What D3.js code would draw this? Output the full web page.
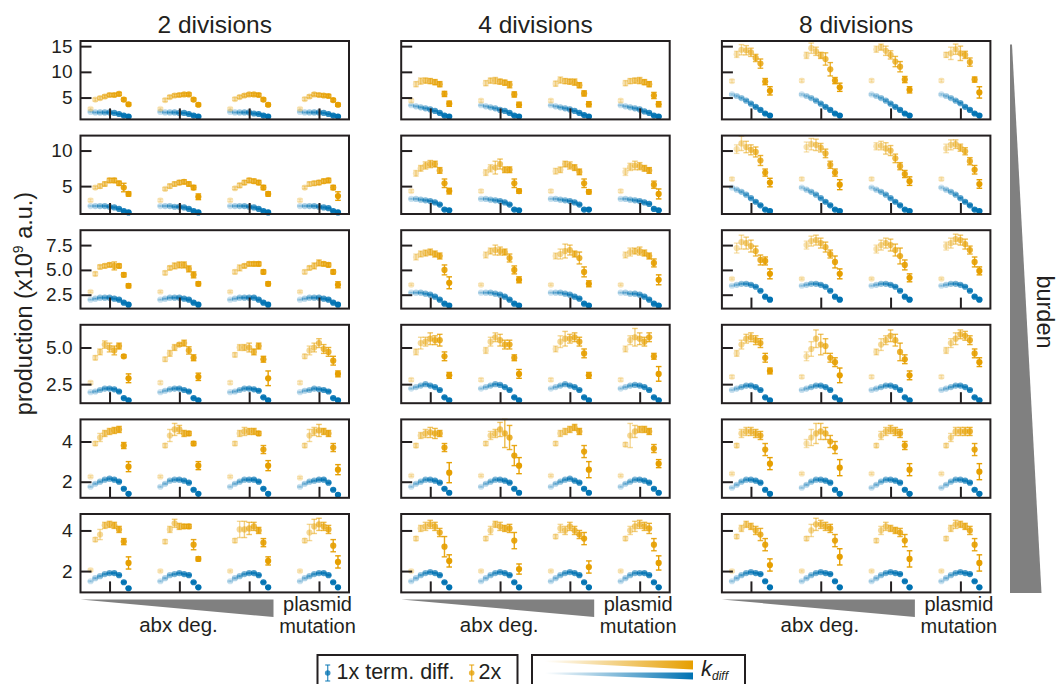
<!DOCTYPE html>
<html><head><meta charset="utf-8">
<script src="https://cdn.jsdelivr.net/npm/d3@7"></script>
<style>html,body{margin:0;padding:0;background:#fff;} svg{display:block;font-family:"Liberation Sans",Arial,Helvetica,sans-serif;}</style>
</head><body><svg id="c" width="1057" height="684"></svg>
<script>
// ---------------- DATA ----------------
const colTitles = ["2 divisions", "4 divisions", "8 divisions"];
const groups = [0, 1, 2, 3];
const rowDomains = [[0.75, 16], [1.08, 12.1], [1.1, 9.0], [1.2, 6.55], [1.2, 5.1], [0.95, 4.81]];
const rowTicks = [[5, 10, 15], [5, 10], [2.5, 5.0, 7.5], [2.5, 5.0], [2, 4], [2, 4]];
const rowTickLabels = [["5", "10", "15"], ["5", "10"], ["2.5", "5.0", "7.5"], ["2.5", "5.0"], ["2", "4"], ["2", "4"]];
const legendLabels = ["1x term. diff.", "2x"];

// orange = 2x term. diff., blue = 1x ; [row][group][k_diff index]
const orange2 = [
 [[2.8,4.6,4.9,5.2,5.5,5.5,5.7,4.6,3.7],[2.8,4.5,5.1,5.4,5.5,5.6,5.6,4.6,3.6],[2.8,4.7,5.1,5.4,5.6,5.6,5.5,4.6,3.6],[2.8,4.7,5.2,5.6,5.5,5.4,5.3,4.5,3.6]],
 [[3.0,4.8,5.0,5.3,5.8,5.8,5.4,4.8,3.9],[3.0,4.6,5.0,5.3,5.5,5.6,5.3,4.8,3.5],[3.0,4.7,5.1,5.5,5.8,5.7,5.5,4.8,3.9],[3.0,4.8,5.3,5.4,5.5,5.7,5.8,4.8,3.6]],
 [[2.8,4.6,5.3,5.4,5.5,5.4,5.4,4.5,3.4],[2.8,4.7,5.2,5.4,5.5,5.5,5.1,4.5,3.6],[2.8,4.8,5.2,5.4,5.6,5.6,5.6,4.8,3.6],[2.8,4.8,5.2,5.4,5.7,5.6,5.5,4.8,3.5]],
 [[2.6,4.3,4.7,5.2,5.0,4.8,5.1,4.4,2.9],[2.6,4.2,4.6,5.0,5.2,5.3,4.8,4.3,3.0],[2.6,4.5,5.0,5.0,5.0,4.7,5.1,4.2,2.9],[2.6,4.4,4.8,5.0,5.3,4.9,4.7,4.1,3.2]],
 [[2.25,3.9,4.2,4.4,4.5,4.55,4.6,3.8,2.75],[2.25,3.8,4.3,4.6,4.6,4.4,4.4,3.9,2.8],[2.25,3.9,4.4,4.5,4.5,4.5,4.4,3.6,2.8],[2.2,3.8,4.3,4.5,4.55,4.5,4.4,3.7,2.6]],
 [[2.05,3.55,3.8,4.25,4.3,4.25,4.05,3.45,2.4],[2.0,3.45,4.05,4.35,4.2,4.2,4.2,3.3,2.6],[2.0,3.5,4.05,4.05,4.1,4.2,4.0,3.4,2.5],[2.0,3.5,3.9,4.2,4.3,4.2,4.05,3.25,2.45]]
];
const orange4 = [
 [[4.4,7.6,8.2,8.3,8.2,8.0,7.6,5.7,3.8],[4.4,7.8,8.3,8.3,8.1,7.9,7.5,5.6,3.6],[4.4,7.7,8.4,8.2,8.1,8.0,7.4,5.8,3.7],[4.4,7.8,8.2,8.3,8.3,8.0,7.6,5.4,3.7]],
 [[4.3,6.8,7.5,7.9,8.1,8.1,7.2,5.4,4.3],[4.3,6.9,7.5,7.6,8.1,7.3,7.3,5.4,4.3],[4.3,7.1,7.3,8.1,7.9,7.6,7.0,5.4,4.2],[4.3,7.0,7.7,7.9,7.8,7.5,7.2,5.2,3.9]],
 [[3.5,6.3,6.6,6.7,6.8,6.6,6.4,5.0,3.7],[3.5,6.5,6.9,7.0,6.9,6.8,6.2,5.0,4.0],[3.5,6.4,6.6,6.9,7.0,6.6,6.2,4.8,3.6],[3.5,6.5,6.8,6.9,6.9,6.7,6.4,5.7,4.0]],
 [[2.8,4.7,5.3,5.4,5.6,5.5,5.5,4.4,3.1],[2.8,4.8,5.4,5.7,5.5,5.2,5.2,4.3,3.2],[2.8,4.9,5.4,5.6,5.6,5.7,5.4,4.6,3.1],[2.8,4.9,5.5,5.7,5.6,5.4,5.7,4.4,3.2]],
 [[2.3,3.8,4.3,4.4,4.45,4.4,4.4,3.7,2.45],[2.3,3.9,4.3,4.4,4.6,4.4,4.2,3.3,2.8],[2.3,3.9,4.4,4.5,4.6,4.7,4.5,3.5,2.6],[2.3,3.85,4.3,4.5,4.6,4.6,4.5,3.65,2.9]],
 [[2.0,3.6,4.1,4.2,4.3,4.2,3.9,3.2,2.5],[2.0,3.6,4.0,4.3,4.2,4.1,4.1,3.5,2.1],[2.0,3.7,4.1,4.0,4.2,4.0,3.8,3.6,2.2],[2.0,3.6,4.0,4.2,4.3,4.2,4.1,3.3,2.4]]
];
const orange8 = [
 [[8.2,13.4,14.3,14.2,13.8,12.7,11.6,8.1,6.3],[8.3,13.2,14.6,14.0,13.2,12.5,10.5,8.3,7.0],[8.3,14.4,14.8,14.1,13.3,12.0,11.0,8.5,6.5],[8.3,13.3,13.6,14.4,13.6,13.3,11.9,8.5,6.0]],
 [[6.0,10.2,11.0,10.5,10.1,9.8,8.6,6.9,5.5],[6.0,10.5,10.9,10.8,10.4,9.6,8.0,6.9,5.2],[6.0,10.6,10.7,10.3,10.0,8.9,7.8,6.7,5.7],[6.0,10.3,10.8,10.9,10.4,9.9,8.5,7.3,5.3]],
 [[4.1,7.2,7.8,7.7,7.4,6.9,6.0,5.9,4.6],[4.1,7.5,7.9,8.0,7.7,7.3,6.6,5.8,4.6],[4.1,7.1,7.5,7.7,7.5,7.0,6.4,5.5,4.2],[4.1,7.4,7.7,8.1,8.0,7.6,7.0,5.8,4.9]],
 [[3.0,4.6,5.2,5.6,5.7,5.5,5.3,4.3,3.4],[3.0,4.4,4.9,5.6,5.2,5.1,4.3,4.0,3.1],[3.0,4.7,5.2,5.5,5.8,5.5,4.7,4.2,3.1],[3.0,4.8,5.3,5.6,5.9,5.8,5.5,4.6,4.0]],
 [[2.4,3.8,4.4,4.5,4.5,4.4,4.3,3.6,2.9],[2.4,3.9,4.2,4.4,4.5,4.4,4.0,3.7,2.7],[2.4,3.8,4.3,4.5,4.6,4.5,4.4,3.8,2.6],[2.4,3.8,4.2,4.5,4.5,4.5,4.5,3.6,2.5]],
 [[2.0,3.7,4.1,4.3,4.2,4.0,3.8,3.3,2.3],[2.0,3.6,4.0,4.3,4.3,4.2,4.1,3.5,2.7],[2.0,3.5,4.0,4.2,4.1,4.0,3.9,3.5,2.6],[2.0,3.6,4.1,4.3,4.3,4.2,4.0,3.3,2.4]]
];
const blue2 = [
 [[2.2,2.1,2.1,2.1,2.1,2.0,1.8,1.5,1.3],[2.2,2.1,2.1,2.1,2.0,2.0,1.8,1.5,1.3],[2.2,2.1,2.1,2.1,2.1,1.9,1.8,1.5,1.3],[2.2,2.1,2.1,2.1,2.1,2.0,1.8,1.5,1.3]],
 [[2.2,2.2,2.2,2.2,2.1,2.0,1.8,1.5,1.3],[2.2,2.2,2.2,2.1,2.1,2.0,1.8,1.5,1.3],[2.2,2.2,2.2,2.2,2.1,2.0,1.8,1.5,1.3],[2.2,2.2,2.2,2.2,2.1,2.0,1.9,1.5,1.3]],
 [[2.0,2.1,2.2,2.2,2.2,2.1,2.0,1.7,1.5],[2.0,2.1,2.2,2.2,2.2,2.1,2.0,1.7,1.5],[2.0,2.1,2.2,2.2,2.2,2.2,2.0,1.7,1.5],[2.0,2.1,2.2,2.2,2.2,2.1,2.0,1.7,1.5]],
 [[1.95,2.0,2.1,2.2,2.2,2.15,2.0,1.55,1.4],[1.95,2.05,2.15,2.2,2.2,2.1,2.0,1.55,1.4],[1.95,2.0,2.1,2.2,2.2,2.15,2.05,1.6,1.4],[1.95,2.05,2.1,2.2,2.15,2.1,2.0,1.55,1.4]],
 [[1.75,1.9,2.0,2.1,2.15,2.1,2.0,1.65,1.4],[1.75,1.9,2.05,2.1,2.1,2.05,1.95,1.6,1.4],[1.75,1.9,2.0,2.1,2.1,2.1,2.0,1.65,1.4],[1.75,1.9,2.0,2.05,2.1,2.1,1.95,1.6,1.35]],
 [[1.5,1.65,1.75,1.85,1.9,1.9,1.8,1.45,1.15],[1.5,1.65,1.8,1.85,1.9,1.85,1.8,1.45,1.2],[1.5,1.65,1.75,1.85,1.9,1.9,1.8,1.45,1.2],[1.5,1.65,1.75,1.85,1.9,1.9,1.8,1.45,1.2]]
];
const blue4 = [
 [[3.5,3.3,3.1,2.9,2.7,2.4,2.0,1.5,1.3],[3.5,3.3,3.1,2.9,2.6,2.4,2.0,1.5,1.3],[3.5,3.3,3.1,2.9,2.7,2.4,2.0,1.6,1.3],[3.5,3.3,3.1,2.9,2.7,2.3,2.0,1.5,1.3]],
 [[3.2,3.2,3.1,3.0,2.9,2.7,2.4,1.7,1.6],[3.2,3.2,3.1,3.0,2.9,2.7,2.4,1.7,1.6],[3.2,3.2,3.1,3.0,2.9,2.7,2.4,1.7,1.7],[3.2,3.2,3.1,3.0,2.9,2.7,2.5,1.8,1.6]],
 [[2.7,2.7,2.7,2.6,2.5,2.3,2.0,1.6,1.4],[2.7,2.7,2.7,2.6,2.5,2.3,2.0,1.6,1.4],[2.7,2.7,2.7,2.6,2.5,2.3,2.1,1.6,1.4],[2.7,2.7,2.6,2.6,2.5,2.3,2.0,1.6,1.4]],
 [[2.2,2.3,2.4,2.5,2.4,2.3,2.1,1.6,1.4],[2.2,2.3,2.4,2.5,2.45,2.3,2.1,1.6,1.4],[2.2,2.3,2.4,2.5,2.4,2.3,2.1,1.6,1.4],[2.2,2.3,2.4,2.45,2.4,2.3,2.1,1.6,1.4]],
 [[1.75,1.9,2.0,2.1,2.1,2.05,1.95,1.65,1.45],[1.75,1.9,2.0,2.1,2.1,2.05,1.95,1.65,1.45],[1.75,1.9,2.0,2.1,2.15,2.05,1.95,1.65,1.45],[1.75,1.9,2.0,2.1,2.1,2.05,1.95,1.65,1.45]],
 [[1.5,1.65,1.8,1.9,1.95,1.9,1.8,1.45,1.2],[1.5,1.65,1.8,1.9,1.95,1.9,1.8,1.45,1.2],[1.5,1.65,1.8,1.9,1.95,1.9,1.8,1.45,1.2],[1.5,1.65,1.8,1.9,1.9,1.9,1.8,1.45,1.2]]
];
const blue8 = [
 [[5.6,5.3,4.9,4.4,3.8,3.2,2.6,1.9,1.5],[5.6,5.3,4.9,4.4,3.8,3.2,2.6,1.9,1.5],[5.6,5.3,4.9,4.4,3.8,3.2,2.6,1.9,1.5],[5.6,5.3,4.9,4.4,3.9,3.2,2.6,1.9,1.5]],
 [[4.8,4.5,4.2,3.8,3.3,2.8,2.3,1.7,1.5],[4.8,4.5,4.2,3.8,3.3,2.8,2.3,1.7,1.5],[4.8,4.5,4.2,3.8,3.3,2.8,2.3,1.7,1.5],[4.8,4.5,4.2,3.8,3.3,2.8,2.3,1.7,1.5]],
 [[3.4,3.5,3.6,3.6,3.5,3.3,2.9,2.3,2.0],[3.4,3.5,3.6,3.6,3.5,3.3,2.9,2.3,2.0],[3.4,3.5,3.6,3.6,3.5,3.3,2.9,2.3,2.0],[3.4,3.5,3.6,3.6,3.5,3.3,2.9,2.3,2.0]],
 [[2.1,2.2,2.3,2.4,2.4,2.3,2.1,1.6,1.4],[2.1,2.2,2.3,2.4,2.4,2.3,2.1,1.6,1.4],[2.1,2.2,2.3,2.4,2.4,2.3,2.1,1.6,1.4],[2.1,2.2,2.3,2.4,2.4,2.3,2.1,1.6,1.4]],
 [[1.7,1.85,2.0,2.1,2.1,2.05,1.95,1.6,1.4],[1.7,1.85,2.0,2.1,2.1,2.05,1.95,1.6,1.4],[1.7,1.85,2.0,2.1,2.1,2.05,1.95,1.6,1.4],[1.7,1.85,2.0,2.1,2.1,2.05,1.95,1.6,1.4]],
 [[1.5,1.65,1.8,1.9,1.95,1.9,1.85,1.5,1.2],[1.5,1.65,1.8,1.9,1.95,1.9,1.85,1.5,1.2],[1.5,1.65,1.8,1.9,1.95,1.9,1.85,1.5,1.2],[1.5,1.65,1.8,1.9,1.95,1.9,1.85,1.5,1.2]]
];
// error bars (half-width), orange per group, blue per row
const errO2 = [
 [[0.2,0.3,0.3,0.3,0.3,0.3,0.3,0.3,0.3],[0.2,0.3,0.3,0.3,0.3,0.3,0.3,0.3,0.3],[0.2,0.3,0.3,0.3,0.3,0.3,0.3,0.3,0.3],[0.2,0.3,0.3,0.3,0.3,0.3,0.3,0.3,0.3]],
 [[0.2,0.2,0.3,0.3,0.3,0.3,0.3,0.6,0.3],[0.2,0.2,0.3,0.3,0.3,0.3,0.3,0.3,0.4],[0.2,0.2,0.3,0.3,0.3,0.3,0.3,0.3,0.3],[0.2,0.2,0.3,0.3,0.3,0.3,0.3,0.3,0.6]],
 [[0.1,0.2,0.2,0.2,0.2,0.4,0.2,0.2,0.2],[0.1,0.2,0.2,0.3,0.3,0.3,0.3,0.3,0.2],[0.1,0.2,0.3,0.2,0.2,0.2,0.2,0.2,0.2],[0.1,0.2,0.2,0.3,0.3,0.2,0.2,0.2,0.3]],
 [[0.1,0.15,0.2,0.25,0.3,0.3,0.2,0.1,0.3],[0.1,0.15,0.2,0.2,0.1,0.2,0.25,0.2,0.25],[0.1,0.15,0.2,0.2,0.3,0.2,0.2,0.2,0.5],[0.1,0.15,0.3,0.3,0.3,0.3,0.3,0.3,0.2]],
 [[0.05,0.1,0.2,0.15,0.15,0.15,0.15,0.15,0.25],[0.05,0.1,0.3,0.3,0.2,0.15,0.1,0.1,0.2],[0.05,0.1,0.15,0.2,0.15,0.15,0.1,0.2,0.25],[0.05,0.1,0.3,0.2,0.3,0.15,0.15,0.2,0.25]],
 [[0.05,0.1,0.25,0.15,0.15,0.15,0.15,0.15,0.3],[0.05,0.1,0.15,0.2,0.15,0.1,0.1,0.25,0.1],[0.05,0.1,0.4,0.4,0.3,0.2,0.15,0.2,0.2],[0.05,0.1,0.4,0.35,0.3,0.2,0.2,0.3,0.3]]
];
const errO4 = [
 [[0.3,0.5,0.6,0.5,0.5,0.5,0.5,0.5,0.5],[0.3,0.5,0.5,0.6,0.5,0.5,0.6,0.5,0.5],[0.3,0.5,0.6,0.5,0.5,0.6,0.5,0.5,0.5],[0.3,0.5,0.5,0.5,0.6,0.5,0.5,0.6,0.5]],
 [[0.2,0.4,0.4,0.5,0.5,0.4,0.4,0.6,0.4],[0.2,0.4,0.5,0.9,0.7,0.4,0.4,0.6,0.3],[0.2,0.4,0.4,0.4,0.5,0.4,0.4,0.6,0.3],[0.2,0.5,0.5,0.6,0.5,0.4,0.4,0.5,0.7]],
 [[0.1,0.3,0.3,0.3,0.3,0.3,0.3,0.5,0.6],[0.1,0.3,0.3,0.5,0.4,0.3,0.4,0.4,0.3],[0.1,0.3,0.5,0.7,0.5,0.3,0.6,0.5,0.3],[0.1,0.3,0.4,0.3,0.4,0.3,0.3,0.4,0.5]],
 [[0.1,0.2,0.4,0.3,0.4,0.3,0.4,0.3,0.2],[0.1,0.2,0.3,0.3,0.4,0.3,0.3,0.2,0.3],[0.1,0.2,0.4,0.5,0.3,0.3,0.3,0.3,0.2],[0.1,0.2,0.3,0.6,0.4,0.3,0.3,0.2,0.5]],
 [[0.05,0.1,0.15,0.2,0.25,0.25,0.15,0.2,0.5],[0.05,0.1,0.2,0.2,0.35,0.7,0.6,0.5,0.4],[0.05,0.1,0.15,0.15,0.15,0.15,0.15,0.3,0.4],[0.05,0.1,0.6,0.3,0.15,0.15,0.15,0.2,0.2]],
 [[0.05,0.1,0.15,0.2,0.2,0.2,0.2,0.5,0.3],[0.05,0.1,0.2,0.15,0.2,0.15,0.2,0.4,0.25],[0.05,0.1,0.2,0.2,0.2,0.2,0.2,0.3,0.3],[0.05,0.1,0.2,0.25,0.2,0.2,0.25,0.3,0.35]]
];
const errO8 = [
 [[0.3,0.6,1.0,0.9,0.8,0.7,0.9,0.6,0.8],[0.3,0.6,1.0,0.8,0.6,1.2,1.3,0.6,0.8],[0.3,0.6,0.6,0.9,0.8,1.0,1.0,0.6,0.6],[0.3,0.5,1.2,1.0,1.4,0.7,0.8,0.5,1.1]],
 [[0.2,0.6,1.0,0.8,0.7,0.7,0.7,0.5,0.6],[0.2,0.7,0.8,0.8,0.6,0.6,0.5,0.5,0.7],[0.2,0.5,0.6,0.8,0.7,0.6,0.5,0.5,0.6],[0.2,0.6,0.7,0.6,0.5,0.5,0.5,0.6,0.6]],
 [[0.1,0.5,0.7,0.6,0.6,0.5,0.5,0.4,0.5],[0.1,0.4,0.5,0.5,0.5,0.5,0.4,0.6,0.5],[0.1,0.4,0.5,0.5,0.6,0.6,0.8,0.5,0.4],[0.1,0.4,0.5,0.5,0.5,0.5,0.4,0.5,0.4]],
 [[0.1,0.2,0.3,0.3,0.3,0.3,0.3,0.3,0.2],[0.1,0.3,0.5,0.6,0.7,0.5,0.3,0.3,0.5],[0.1,0.2,0.4,0.3,0.4,0.4,0.6,0.3,0.3],[0.1,0.2,0.3,0.4,0.3,0.3,0.3,0.3,0.3]],
 [[0.05,0.1,0.2,0.2,0.2,0.2,0.2,0.3,0.3],[0.05,0.2,0.4,0.5,0.4,0.3,0.3,0.3,0.4],[0.05,0.1,0.2,0.2,0.2,0.2,0.2,0.2,0.3],[0.05,0.1,0.2,0.2,0.2,0.2,0.2,0.3,0.4]],
 [[0.05,0.1,0.15,0.15,0.15,0.2,0.3,0.3,0.3],[0.05,0.1,0.3,0.3,0.2,0.2,0.2,0.3,0.4],[0.05,0.1,0.2,0.2,0.15,0.15,0.2,0.3,0.4],[0.05,0.1,0.15,0.2,0.15,0.15,0.2,0.3,0.4]]
];
const errB2 = [[0.1,0.1,0.1,0.1,0.1,0.1,0.1,0.1,0.1],[0.08,0.08,0.08,0.08,0.08,0.08,0.08,0.08,0.08],[0.05,0.05,0.05,0.05,0.05,0.05,0.05,0.05,0.05],[0.04,0.04,0.04,0.04,0.04,0.04,0.04,0.04,0.04],[0.03,0.03,0.03,0.03,0.03,0.03,0.03,0.03,0.03],[0.03,0.03,0.03,0.03,0.03,0.03,0.03,0.03,0.03]];
const errB4 = [[0.1,0.1,0.1,0.1,0.1,0.1,0.1,0.1,0.1],[0.08,0.08,0.08,0.08,0.08,0.08,0.08,0.08,0.08],[0.05,0.05,0.05,0.05,0.05,0.05,0.05,0.05,0.05],[0.04,0.04,0.04,0.04,0.04,0.04,0.04,0.04,0.04],[0.03,0.03,0.03,0.03,0.03,0.03,0.03,0.03,0.03],[0.03,0.03,0.03,0.03,0.03,0.03,0.03,0.03,0.03]];
const errB8 = [[0.15,0.15,0.15,0.15,0.15,0.15,0.15,0.15,0.15],[0.1,0.1,0.1,0.1,0.1,0.1,0.1,0.1,0.1],[0.06,0.06,0.06,0.06,0.06,0.06,0.06,0.06,0.06],[0.04,0.04,0.04,0.04,0.04,0.04,0.04,0.04,0.04],[0.03,0.03,0.03,0.03,0.03,0.03,0.03,0.03,0.03],[0.03,0.03,0.03,0.03,0.03,0.03,0.03,0.03,0.03]];

// ---------------- DRAW ----------------
const svg = d3.select("#c");
const INK = "#231f20", ORANGE = "#E69F00", BLUE = "#0072B2", GREY = "#808080";
const colLeft0 = 80.5, colPitch = 320.7, pw = 268.5;
const rowTop0 = 41, rowPitch = 94.6, ph = 78.4;

const x = d3.scaleLinear().domain([-0.416, 3.43]).range([0, pw]);
const offset = i => (i - 4) * 0.068;
const alpha = i => 0.2 + i * 0.1;
const capW = 2.8, rDot = 3.1;

const seriesDefs = [
  { vals: [blue2, blue4, blue8], err: [errB2, errB4, errB8], color: BLUE, perGroup: false },
  { vals: [orange2, orange4, orange8], err: [errO2, errO4, errO8], color: ORANGE, perGroup: true }
];

for (let c = 0; c < 3; c++) {
  const left = colLeft0 + c * colPitch;
  svg.append("text").attr("x", left + pw / 2).attr("y", 33).attr("text-anchor", "middle")
    .attr("font-size", 24.5).attr("fill", INK).text(colTitles[c]);

  for (let r = 0; r < 6; r++) {
    const g = svg.append("g").attr("transform", `translate(${left},${rowTop0 + r * rowPitch})`);
    const y = d3.scaleLinear().domain(rowDomains[r]).range([ph, 0]);

    seriesDefs.forEach(s => {
      groups.forEach((gi, k) => {
        const vals = s.vals[c][r][k];
        const errs = s.perGroup ? s.err[c][r][k] : s.err[c][r];
        const pts = vals.map((v, i) => ({ x: x(gi + offset(i)), v, e: errs[i], i }));
        const eg = g.append("g");
        pts.forEach(p => {
          const gg = eg.append("g").attr("stroke", s.color).attr("stroke-opacity", alpha(p.i)).attr("stroke-width", 1.4);
          const y0 = y(p.v - p.e), y1 = y(p.v + p.e);
          gg.append("line").attr("x1", p.x).attr("x2", p.x).attr("y1", y0).attr("y2", y1);
          gg.append("line").attr("x1", p.x - capW).attr("x2", p.x + capW).attr("y1", y0).attr("y2", y0);
          gg.append("line").attr("x1", p.x - capW).attr("x2", p.x + capW).attr("y1", y1).attr("y2", y1);
          eg.append("circle").attr("cx", p.x).attr("cy", y(p.v)).attr("r", rDot)
            .attr("fill", s.color).attr("fill-opacity", alpha(p.i));
        });
      });
    });

    const ya = g.append("g").call(d3.axisLeft(y).tickValues(rowTicks[r]).tickSize(-11).tickSizeOuter(0).tickPadding(8)
      .tickFormat((d, i) => c === 0 ? rowTickLabels[r][i] : ""));
    const xa = g.append("g").attr("transform", `translate(0,${ph})`)
      .call(d3.axisBottom(x).tickValues(groups).tickSize(-11).tickSizeOuter(0).tickFormat(""));
    [ya, xa].forEach(a => {
      a.select(".domain").remove();
      a.selectAll(".tick line").attr("stroke", INK).attr("stroke-width", 2);
      a.selectAll(".tick text").attr("fill", INK).attr("font-size", 19).attr("font-family", '"Liberation Sans",Arial,sans-serif');
    });
    g.append("rect").attr("width", pw).attr("height", ph).attr("fill", "none").attr("stroke", INK).attr("stroke-width", 2);
  }

  // bottom wedge + labels
  const tri = [[left, 599.5], [left + 193, 599.5], [left + 193, 617]];
  svg.append("path").attr("d", d3.line()(tri) + "Z").attr("fill", GREY);
  svg.append("text").attr("x", left + 98).attr("y", 632).attr("text-anchor", "middle").attr("font-size", 20.5).attr("fill", INK).text("abx deg.");
  svg.append("text").attr("x", left + 237).attr("y", 610.5).attr("text-anchor", "middle").attr("font-size", 20).attr("fill", INK).text("plasmid");
  svg.append("text").attr("x", left + 237).attr("y", 632.5).attr("text-anchor", "middle").attr("font-size", 20).attr("fill", INK).text("mutation");
}

// y label
const yl = svg.append("text").attr("transform", "translate(32,303.5) rotate(-90)").attr("text-anchor", "middle")
  .attr("font-size", 23.5).attr("fill", INK);
yl.append("tspan").text("production (x10");
yl.append("tspan").attr("font-size", 14).attr("dy", -9).text("9");
yl.append("tspan").attr("dy", 9).text(" a.u.)");

// burden wedge + label
svg.append("path").attr("d", d3.line()([[1010, 44.5], [1012, 44.5], [1041.5, 593], [1010, 593]]) + "Z").attr("fill", GREY);
svg.append("text").attr("transform", "translate(1037,312) rotate(90)").attr("text-anchor", "middle")
  .attr("font-size", 23.5).attr("fill", INK).text("burden");

// legend 1
svg.append("rect").attr("x", 317.5).attr("y", 655).attr("width", 200).attr("height", 40).attr("fill", "#fff").attr("stroke", INK).attr("stroke-width", 2);
[[327.7, BLUE, 336.5, legendLabels[0]], [471.7, ORANGE, 478.5, legendLabels[1]]].forEach(([cx, col, tx, lab]) => {
  const gg = svg.append("g").attr("stroke", col).attr("stroke-opacity", 0.75).attr("stroke-width", 1.3);
  gg.append("line").attr("x1", cx).attr("x2", cx).attr("y1", 665).attr("y2", 681);
  gg.append("line").attr("x1", cx - 2.5).attr("x2", cx + 2.5).attr("y1", 665).attr("y2", 665);
  gg.append("line").attr("x1", cx - 2.5).attr("x2", cx + 2.5).attr("y1", 681).attr("y2", 681);
  svg.append("circle").attr("cx", cx).attr("cy", 673).attr("r", 2.8).attr("fill", col).attr("fill-opacity", 0.75);
  svg.append("text").attr("x", tx).attr("y", 679).attr("font-size", 21.5).attr("fill", INK).text(lab);
});

// legend 2 (k_diff gradients)
const defs = svg.append("defs");
[["gO", ORANGE], ["gB", BLUE]].forEach(([id, col]) => {
  const lg = defs.append("linearGradient").attr("id", id).attr("x1", "0%").attr("x2", "100%").attr("y1", "0%").attr("y2", "0%");
  lg.append("stop").attr("offset", "0%").attr("stop-color", col).attr("stop-opacity", 0);
  lg.append("stop").attr("offset", "100%").attr("stop-color", col).attr("stop-opacity", 1);
});
svg.append("rect").attr("x", 532).attr("y", 655).attr("width", 213).attr("height", 40).attr("fill", "#fff").attr("stroke", INK).attr("stroke-width", 2);
svg.append("path").attr("d", d3.line()([[545, 660.5], [693, 660.5], [693, 669.5], [545, 662]]) + "Z").attr("fill", "url(#gO)");
svg.append("path").attr("d", d3.line()([[545, 672.5], [693, 672.5], [693, 679.5], [545, 674]]) + "Z").attr("fill", "url(#gB)");
const kt = svg.append("text").attr("x", 701).attr("y", 675.5).attr("font-style", "italic").attr("fill", INK);
kt.append("tspan").attr("font-size", 22).text("k");
kt.append("tspan").attr("font-size", 12).attr("dy", 4).text("diff");
</script></body></html>
